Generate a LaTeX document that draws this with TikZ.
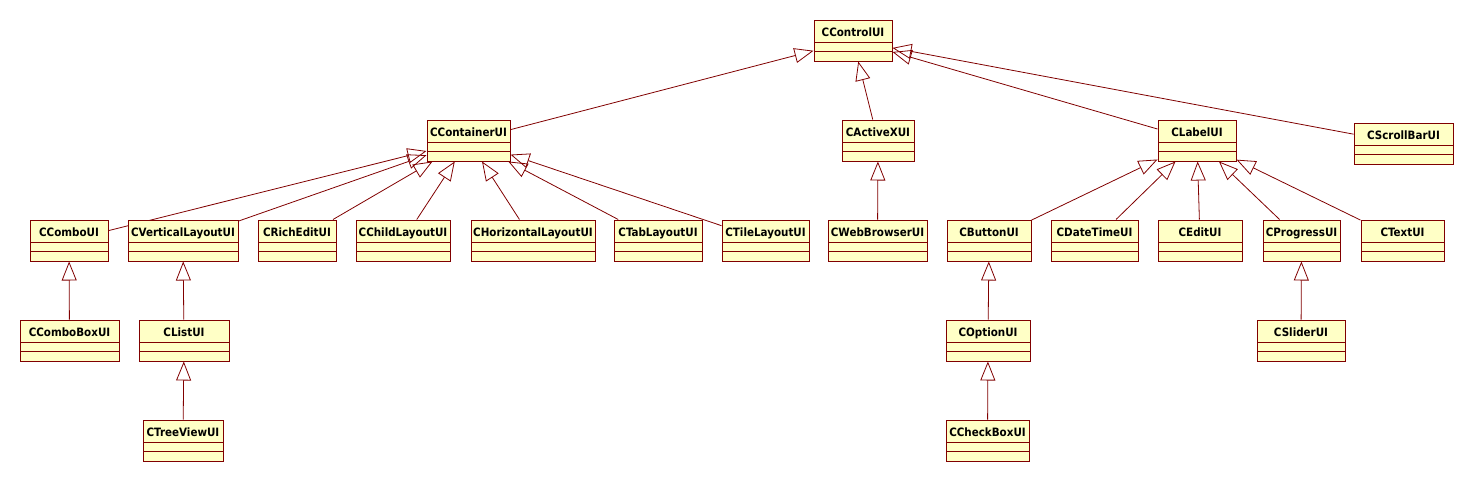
\documentclass[tikz,border=0pt]{standalone}
\usepackage{fontspec}
\setmainfont{DejaVu Sans Condensed}
\usetikzlibrary{arrows.meta}
\definecolor{umlfill}{RGB}{255,255,198}
\definecolor{umlline}{RGB}{128,0,0}
\pgfdeclarelayer{edges}
\pgfsetlayers{edges,main}
\tikzset{
  cls/.style={draw=umlline, fill=umlfill, line width=1pt, rectangle,
    inner xsep=0pt, inner ysep=0pt, minimum height=41pt,
    text height=16pt, text depth=25pt, align=center,
    font=\fontsize{11.5}{13}\selectfont\bfseries, text=black,
    path picture={
      \draw[umlline, line width=1pt]
        ([yshift=-22pt]path picture bounding box.north west) --
        ([yshift=-22pt]path picture bounding box.north east);
      \draw[umlline, line width=1pt]
        ([yshift=-31pt]path picture bounding box.north west) --
        ([yshift=-31pt]path picture bounding box.north east);
    }},
  inherit/.style={draw=umlline, line width=0.8pt,
    -{Triangle[open, length=19pt, width=15pt, line width=0.8pt]}}
}
\begin{document}
\begin{tikzpicture}[x=1pt, y=-1pt]
\useasboundingbox (0,0) rectangle (1474,482);
% level 0
\node[cls, minimum width=78pt] (control) at (853,40.5) {CControlUI};
% level 1
\node[cls, minimum width=83pt] (container) at (468.5,140.5) {CContainerUI};
\node[cls, minimum width=72pt] (activex) at (878,140.5) {CActiveXUI};
\node[cls, minimum width=78pt] (label) at (1197,140.5) {CLabelUI};
\node[cls, minimum width=99pt] (scrollbar) at (1403.5,143.5) {CScrollBarUI};
% level 2
\node[cls, minimum width=78pt] (combo) at (69,240.5) {CComboUI};
\node[cls, minimum width=110pt] (vertical) at (183,240.5) {CVerticalLayoutUI};
\node[cls, minimum width=78pt] (richedit) at (297,240.5) {CRichEditUI};
\node[cls, minimum width=94pt] (child) at (403,240.5) {CChildLayoutUI};
\node[cls, minimum width=124pt] (horizontal) at (533,240.5) {CHorizontalLayoutUI};
\node[cls, minimum width=88pt] (tab) at (658,240.5) {CTabLayoutUI};
\node[cls, minimum width=87pt] (tile) at (765.5,240.5) {CTileLayoutUI};
\node[cls, minimum width=99pt] (web) at (877.5,240.5) {CWebBrowserUI};
\node[cls, minimum width=84pt] (button) at (989,240.5) {CButtonUI};
\node[cls, minimum width=87pt] (datetime) at (1094.5,240.5) {CDateTimeUI};
\node[cls, minimum width=84pt] (edit) at (1200,240.5) {CEditUI};
\node[cls, minimum width=77pt] (progress) at (1301.5,240.5) {CProgressUI};
\node[cls, minimum width=83pt] (textui) at (1402.5,240.5) {CTextUI};
% level 3
\node[cls, minimum width=99pt] (combobox) at (69.5,340.5) {CComboBoxUI};
\node[cls, minimum width=90pt] (list) at (184,340.5) {CListUI};
\node[cls, minimum width=84pt] (option) at (988,340.5) {COptionUI};
\node[cls, minimum width=88pt] (slider) at (1301,340.5) {CSliderUI};
% level 4
\node[cls, minimum width=80pt] (treeview) at (183,440.5) {CTreeViewUI};
\node[cls, minimum width=83pt] (checkbox) at (987.5,440.5) {CCheckBoxUI};

\begin{pgfonlayer}{edges}
\draw[inherit] (container) -- (control);
\draw[inherit] (activex) -- (control);
\draw[inherit] (label) -- (control);
\draw[inherit] (scrollbar) -- (control);
\draw[inherit] (combo) -- (container);
\draw[inherit] (vertical) -- (container);
\draw[inherit] (richedit) -- (container);
\draw[inherit] (child) -- (container);
\draw[inherit] (horizontal) -- (container);
\draw[inherit] (tab) -- (container);
\draw[inherit] (tile) -- (container);
\draw[inherit] (web) -- (activex);
\draw[inherit] (button) -- (label);
\draw[inherit] (datetime) -- (label);
\draw[inherit] (edit) -- (label);
\draw[inherit] (progress) -- (label);
\draw[inherit] (textui) -- (label);
\draw[inherit] (combobox) -- (combo);
\draw[inherit] (list) -- (vertical);
\draw[inherit] (treeview) -- (list);
\draw[inherit] (option) -- (button);
\draw[inherit] (checkbox) -- (option);
\draw[inherit] (slider) -- (progress);
\end{pgfonlayer}
\end{tikzpicture}
\end{document}
